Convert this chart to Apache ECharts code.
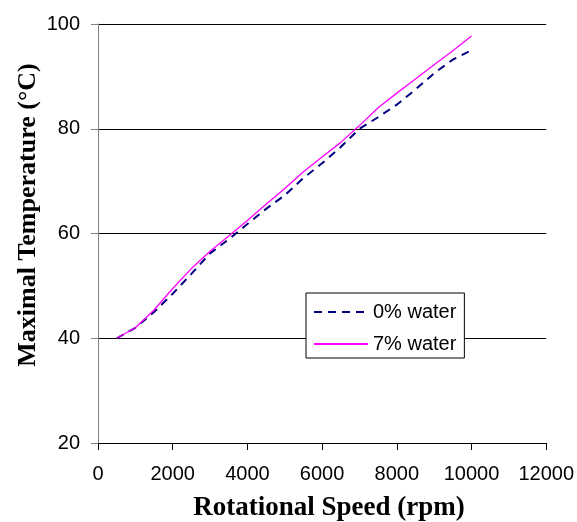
<!DOCTYPE html>
<html><head><meta charset="utf-8">
<script src="https://cdn.jsdelivr.net/npm/echarts@6/dist/echarts.min.js"></script>
<style>html,body{margin:0;padding:0;background:#fff}#c{width:577px;height:522px}</style>
</head><body><div id="c"></div>
<script>
const speeds = [500,1000,1500,2000,2500,3000,3500,4000,4500,5000,5500,6000,6500,7000,7500,8000,8500,9000,9500,10000];
const water0 = [40,42,45,48.5,52.3,56.2,58.9,61.8,64.7,67.3,70.6,73.4,76.5,80,82.2,84.6,87.5,90.6,93.2,95];
const water7 = [40,42,45.4,49.5,53.3,56.6,59.5,62.5,65.6,68.6,71.8,74.6,77.4,80.6,84,86.8,89.5,92.2,94.9,97.7];
const seriesNames = ['0% water','7% water'];
const xTitle = 'Rotational Speed (rpm)';
const yTitle = 'Maximal Temperature (\u00B0C)';

const chart = echarts.init(document.getElementById('c'), null, {renderer:'canvas'});
const pair = (xs, ys) => xs.map((x,i)=>[x, ys[i]]);
chart.setOption({
  animation:false,
  backgroundColor:'#fff',
  grid:{left:98, top:24, width:450, height:419, containLabel:false},
  xAxis:{type:'value', min:0, max:12000, interval:2000,
    axisLine:{lineStyle:{color:'#000', width:1}},
    axisTick:{show:true, inside:false, length:7, lineStyle:{color:'#000'}},
    axisLabel:{color:'#000', fontFamily:'Liberation Sans', fontSize:20, margin:21, formatter:v=>String(v)},
    splitLine:{show:false}},
  yAxis:{type:'value', min:20, max:100, interval:20,
    axisLine:{show:true, lineStyle:{color:'#808080', width:1}},
    axisTick:{show:true, inside:false, length:7, lineStyle:{color:'#808080'}},
    axisLabel:{color:'#000', fontFamily:'Liberation Sans', fontSize:20, margin:18, formatter:v=>String(v)},
    splitLine:{show:true, lineStyle:{color:'#000', width:1}}},
  legend:{orient:'vertical', left:306, top:293, itemWidth:54, itemHeight:12, itemGap:12,
    padding:[9,8,4,7], backgroundColor:'#fff', borderColor:'#000', borderWidth:1, borderRadius:0,
    itemStyle:{opacity:0, borderWidth:0},
    textStyle:{color:'#000', fontFamily:'Liberation Sans', fontSize:20},
    data:seriesNames},
  graphic:[
    {type:'text', style:{text:xTitle, font:'bold 27px "Liberation Serif"', fill:'#000', align:'center', verticalAlign:'middle'}, x:329, y:508},
    {type:'text', style:{text:yTitle, font:'bold 26px "Liberation Serif"', fill:'#000', align:'center', verticalAlign:'middle'}, x:28, y:215, rotation:Math.PI/2}
  ],
  series:[
    {name:seriesNames[0], type:'line', data:pair(speeds, water0), showSymbol:false, symbol:'none',
      lineStyle:{color:'#000080', width:2, type:[8,6]}, itemStyle:{color:'#000080'}},
    {name:seriesNames[1], type:'line', data:pair(speeds, water7), showSymbol:false, symbol:'none',
      lineStyle:{color:'#FF00FF', width:1.3}, itemStyle:{color:'#FF00FF'}}
  ]
});
</script></body></html>
